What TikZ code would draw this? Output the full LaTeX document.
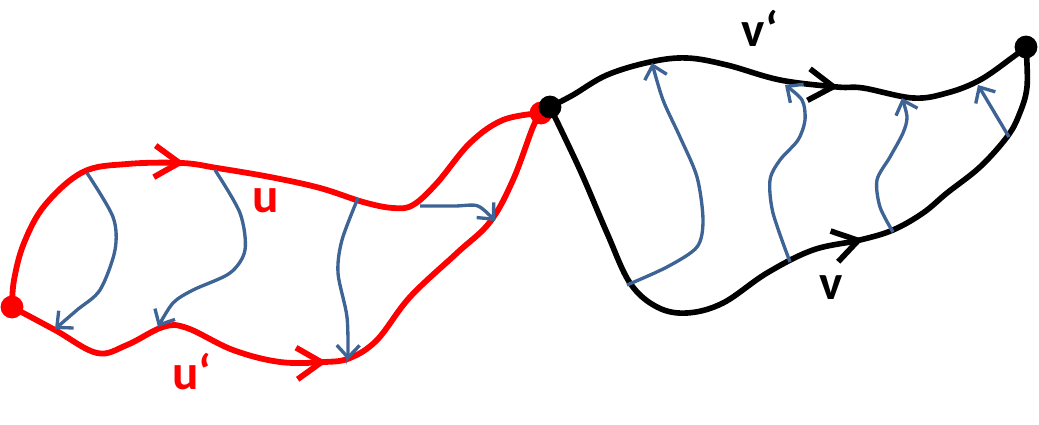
\documentclass[tikz,border=0pt]{standalone}
\usepackage{fontspec}
\setmainfont{Carlito}
\usetikzlibrary{arrows.meta,decorations.markings}
\definecolor{flow}{RGB}{62,100,150}

\begin{document}
\begin{tikzpicture}[x=0.02cm,y=-0.02cm,
    r/.style={red,line width=3.3pt,line join=round},%
    k/.style={black,line width=3.2pt,line join=round},%
    h/.style={flow,line width=1.9pt,-{Straight Barb[length=7pt,width=13pt]}},%
    d/.style={circle,fill,inner sep=0pt,minimum size=13pt},%
    mk/.style={postaction={decorate,decoration={markings,
        mark=at position #1 with {\arrow{Straight Barb[length=14pt,width=18pt]}}}}},%
    l/.style={font=\fontsize{28}{32}\selectfont\bfseries,anchor=base west,inner sep=0pt}]
    \useasboundingbox (0,0) rectangle (1039,425);
    \node[d,red] (A) at (12,307) {};
    \node[d,red] (B) at (541,113) {};
    % u and u'
    \draw[r,mk=5.25cm] plot[smooth,tension=0.6] coordinates {(A.center) (14,280) (24,243) (45,205) (83,172) (127,164) (182,163) (217,168) (270,177) (320,188) (363,202) (393,208) (413,205) (437,183) (470,143) (503,120) (B.center)};
    \draw[r,mk=6.8cm] plot[smooth,tension=0.6] coordinates {(A.center) (55,330) (97,353) (127,345) (163,327) (187,328) (233,350) (280,362) (325,362) (350,358) (377,340) (410,297) (457,253) (490,222) (513,180) (533,127) (B.center)};
    \node[d] (C) at (550,107) {};
    \node[d] (D) at (1026,47) {};
    % v' and v
    \draw[k,mk=6.05cm] plot[smooth,tension=0.6] coordinates {(C.center) (573,95) (607,75) (650,62) (687,58) (727,65) (780,80) (837,87) (863,88) (913,98) (947,93) (980,80) (1013,57) (D.center)};
    \draw[k,mk=9.1cm] plot[smooth,tension=0.6] coordinates {(C.center) (580,170) (607,233) (630,283) (657,307) (687,313) (723,303) (767,273) (813,250) (860,240) (893,230) (923,213) (947,193) (980,167) (1007,137) (1019,115) (1027,87) (D.center)};
    \draw[h] plot[smooth] coordinates {(87,173) (113,217) (115,250) (100,290) (77,310) (55,329)};
    \draw[h] plot[smooth] coordinates {(215,170) (240,213) (245,250) (230,273) (193,290) (173,303) (158,327)};
    \draw[h] plot[smooth] coordinates {(358,198) (342,240) (338,273) (347,317) (348,360)};
    \draw[h] plot[smooth] coordinates {(420,206) (455,206) (478,206) (495,221)};
    \draw[h] plot[smooth] coordinates {(627,285) (667,267) (697,247) (703,220) (697,177) (680,137) (663,100) (652,63)};
    \draw[h] plot[smooth] coordinates {(790,262) (773,213) (770,180) (780,160) (798,140) (805,120) (802,100) (785,85)};
    \draw[h] plot[smooth] coordinates {(893,232) (880,207) (877,180) (890,157) (903,133) (907,117) (902,98)};
    \draw[h] plot[smooth] coordinates {(1009,137) (978,85)};
    \node[l,red] (lu) at (252,213) {u};
    \node[l,red] (lup) at (172,390) {u‘};
    \node[l] (lvp) at (741,47) {v‘};
    \node[l] (lv) at (819,300) {v};
\end{tikzpicture}
\end{document}
